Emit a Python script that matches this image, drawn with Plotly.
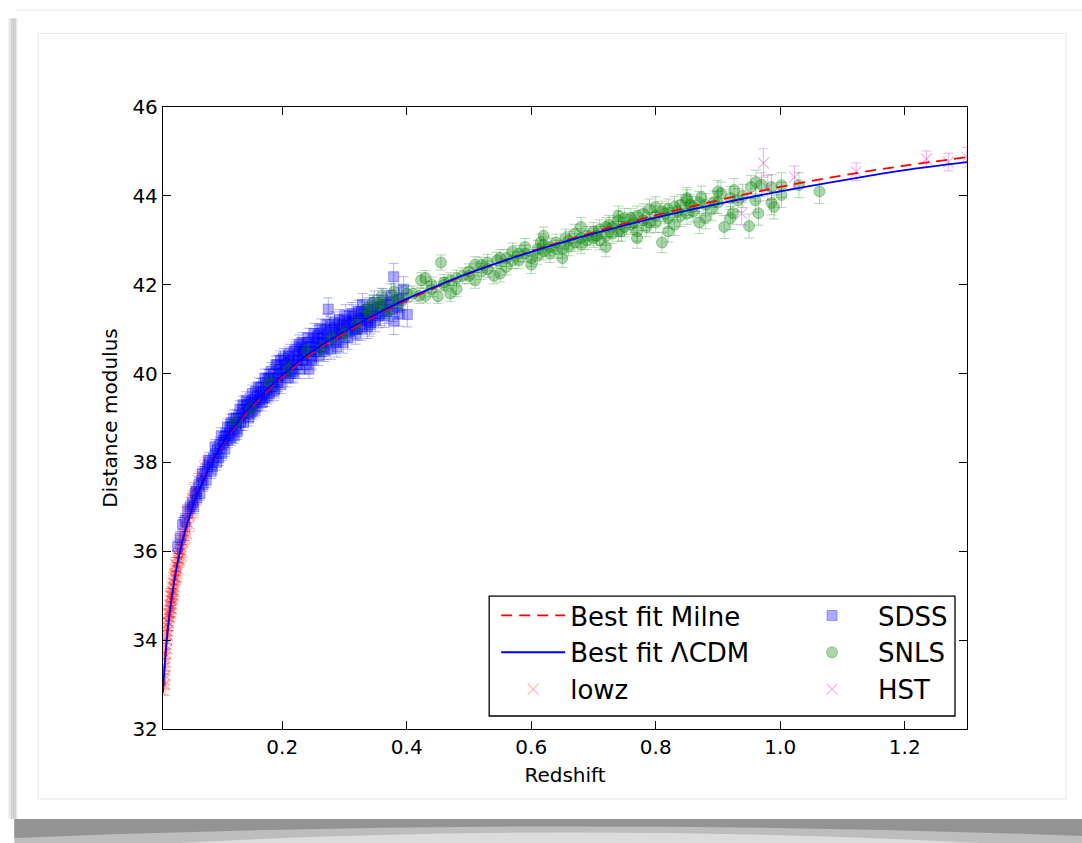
import plotly.graph_objects as go

# ---------------- data ----------------
model_z = [0.0085, 0.01, 0.015, 0.02, 0.03, 0.04, 0.05, 0.06, 0.08, 0.1, 0.12, 0.15, 0.2, 0.25, 0.3,
           0.35, 0.4, 0.45, 0.5, 0.6, 0.7, 0.8, 0.9, 1.0, 1.1, 1.2, 1.3]
lcdm_mu = [32.82, 33.18, 34.07, 34.70, 35.60, 36.25, 36.74, 37.15, 37.80, 38.33, 38.75, 39.27, 39.96,
           40.52, 40.95, 41.33, 41.68, 41.98, 42.26, 42.74, 43.15, 43.51, 43.82, 44.10, 44.35, 44.58, 44.76]
milne_mu = [32.83, 33.19, 34.08, 34.71, 35.61, 36.25, 36.74, 37.14, 37.79, 38.31, 38.72, 39.23, 39.92,
            40.48, 40.91, 41.30, 41.65, 41.96, 42.25, 42.75, 43.18, 43.56, 43.90, 44.20, 44.46, 44.68, 44.87]

lowz_z = [0.010, 0.011, 0.012, 0.012, 0.012, 0.013, 0.014, 0.015, 0.015, 0.016, 0.017, 0.018, 0.019,
          0.020, 0.021, 0.022, 0.023, 0.024, 0.025, 0.026, 0.027, 0.028, 0.029, 0.030, 0.031, 0.033,
          0.034, 0.035, 0.037, 0.038, 0.040, 0.042, 0.045, 0.047, 0.050, 0.053, 0.056, 0.058, 0.062,
          0.065, 0.070, 0.075, 0.080,
          0.0095, 0.011, 0.013, 0.014, 0.016, 0.017, 0.018, 0.019, 0.020, 0.021, 0.022, 0.023, 0.024,
          0.025, 0.026, 0.027, 0.028, 0.030, 0.032, 0.033, 0.035, 0.036, 0.039, 0.041, 0.043, 0.044,
          0.046, 0.048, 0.051, 0.054, 0.057, 0.060]
lowz_mu = [33.1, 33.4, 33.7, 33.2, 33.0, 33.9, 34.0, 34.2, 33.8, 34.4, 34.3, 34.6, 34.8, 34.7, 34.9,
           35.0, 34.8, 35.2, 35.3, 35.1, 35.5, 35.4, 35.6, 35.7, 35.5, 35.8, 35.9, 36.0, 36.1, 35.9,
           36.3, 36.4, 36.5, 36.7, 36.8, 36.9, 37.2, 37.4, 37.3, 37.6, 37.7, 37.9, 38.0,
           33.0, 33.6, 33.5, 34.3, 34.1, 34.6, 34.4, 34.5, 35.0, 34.6, 34.7, 35.1, 34.9, 35.0, 35.4,
           35.2, 35.7, 35.4, 35.9, 35.6, 35.8, 36.2, 36.0, 36.2, 36.6, 36.3, 36.4, 36.9, 36.6, 37.1,
           36.9, 37.2]
lowz_err = [0.20, 0.18, 0.22, 0.20, 0.25, 0.18, 0.20, 0.17, 0.22, 0.18, 0.20, 0.16, 0.18, 0.17, 0.19,
            0.16, 0.18, 0.17, 0.15, 0.18, 0.16, 0.17, 0.15, 0.16, 0.18, 0.15, 0.16, 0.15, 0.17, 0.16,
            0.15, 0.16, 0.15, 0.14, 0.15, 0.14, 0.16, 0.15, 0.14, 0.15, 0.14, 0.15, 0.14,
            0.22, 0.20, 0.19, 0.18, 0.19, 0.17, 0.18, 0.17, 0.16, 0.18, 0.17, 0.16, 0.17, 0.16, 0.15,
            0.17, 0.16, 0.15, 0.16, 0.15, 0.16, 0.15, 0.14, 0.15, 0.16, 0.14, 0.15, 0.14, 0.15, 0.14,
            0.15, 0.14]

sdss_z = [0.032, 0.036, 0.040, 0.044, 0.048, 0.052, 0.056, 0.060, 0.063, 0.066, 0.070, 0.073, 0.076,
          0.080, 0.083, 0.086, 0.090, 0.093, 0.096, 0.100, 0.103, 0.106, 0.110, 0.113, 0.116, 0.120,
          0.123, 0.126, 0.130, 0.133, 0.136, 0.140, 0.143, 0.146, 0.150, 0.153, 0.156, 0.160, 0.163,
          0.166, 0.170, 0.173, 0.176, 0.180, 0.183, 0.186, 0.190, 0.193, 0.196, 0.200, 0.203, 0.206,
          0.210, 0.213, 0.216, 0.220, 0.223, 0.226, 0.230, 0.233, 0.236, 0.240, 0.243, 0.246, 0.250,
          0.253, 0.256, 0.260, 0.263, 0.266, 0.270, 0.274, 0.278, 0.282, 0.286, 0.290, 0.295, 0.300,
          0.305, 0.310, 0.315, 0.320, 0.325, 0.329, 0.335, 0.340, 0.345, 0.350, 0.358, 0.365, 0.372,
          0.379, 0.379, 0.385, 0.392, 0.401,
          0.058, 0.062, 0.068, 0.072, 0.078, 0.082, 0.088, 0.092, 0.098, 0.102, 0.108, 0.112, 0.118,
          0.122, 0.128, 0.132, 0.138, 0.142, 0.148, 0.152, 0.158, 0.162, 0.168, 0.172, 0.178, 0.182,
          0.188, 0.192, 0.198, 0.202, 0.208, 0.212, 0.218, 0.222, 0.228, 0.232, 0.238, 0.242, 0.248,
          0.252, 0.258, 0.262, 0.268, 0.272, 0.278, 0.284, 0.288, 0.292, 0.298, 0.302, 0.308, 0.312,
          0.318, 0.322, 0.328, 0.332, 0.338, 0.342, 0.348, 0.355, 0.362, 0.368, 0.375, 0.388, 0.395,
          0.105, 0.115, 0.125, 0.135, 0.145, 0.155, 0.165, 0.175, 0.185, 0.195, 0.205, 0.215, 0.225,
          0.235, 0.245, 0.255, 0.265, 0.275, 0.285, 0.295, 0.305, 0.315, 0.325, 0.335, 0.345,
          0.095, 0.108, 0.118, 0.127, 0.137, 0.147, 0.157, 0.167, 0.177, 0.187, 0.197, 0.207, 0.217,
          0.227, 0.237, 0.247, 0.257, 0.267, 0.277, 0.287, 0.297, 0.307, 0.317, 0.327, 0.337, 0.347,
          0.357, 0.367, 0.377, 0.387, 0.152, 0.172, 0.192, 0.212, 0.232, 0.252, 0.272, 0.292, 0.312,
          0.332]
sdss_mu = [36.1, 36.3, 36.6, 36.7, 36.9, 37.0, 37.1, 37.3, 37.2, 37.5, 37.6, 37.5, 37.8, 37.9, 38.0,
           37.8, 38.1, 38.2, 38.3, 38.4, 38.2, 38.5, 38.6, 38.5, 38.8, 38.8, 38.6, 39.0, 39.0, 38.9,
           39.2, 39.1, 39.3, 39.0, 39.3, 39.4, 39.2, 39.5, 39.4, 39.7, 39.6, 39.8, 39.5, 39.9, 39.7,
           40.0, 40.2, 39.8, 40.1, 40.0, 40.3, 40.1, 40.4, 40.0, 40.3, 40.5, 40.2, 40.4, 40.6, 40.3,
           40.5, 40.7, 40.1, 40.6, 40.8, 40.5, 40.7, 40.9, 40.6, 40.8, 41.0, 41.45, 40.8, 41.0, 40.7,
           41.1, 40.9, 41.2, 40.8, 41.1, 41.3, 41.0, 41.2, 41.55, 41.3, 41.1, 41.4, 41.2, 41.5, 41.3,
           41.6, 42.18, 41.18, 41.5, 41.7, 41.33,
           37.0, 37.35, 37.3, 37.75, 37.6, 38.05, 37.9, 38.35, 38.1, 38.6, 38.3, 38.8, 38.55, 39.0,
           38.7, 39.2, 38.9, 39.4, 39.1, 39.55, 39.25, 39.7, 39.35, 39.9, 39.55, 40.05, 39.65, 40.2,
           39.75, 40.35, 39.9, 40.45, 40.0, 40.55, 40.1, 40.7, 40.2, 40.8, 40.3, 40.9, 40.4, 41.0,
           40.5, 41.1, 40.55, 41.15, 40.6, 41.2, 40.7, 41.3, 40.95, 41.35, 40.9, 41.4, 41.0, 41.25,
           41.45, 41.15, 41.6, 41.3, 41.65, 41.4, 41.75, 41.35, 41.9,
           38.45, 38.65, 38.85, 39.05, 39.2, 39.35, 39.5, 39.65, 39.8, 39.95, 40.05, 40.2, 40.3,
           40.4, 40.5, 40.6, 40.7, 40.75, 40.85, 40.95, 41.05, 41.15, 41.25, 41.2, 41.3,
           38.0, 38.6, 38.9, 38.75, 39.3, 39.35, 39.6, 39.45, 39.9, 39.6, 40.3, 40.2, 40.05, 40.65,
           40.55, 40.35, 40.85, 40.55, 41.05, 40.9, 41.1, 41.15, 41.0, 41.4, 41.05, 41.5, 41.35, 41.55,
           41.45, 41.65, 39.15, 39.45, 39.9, 40.25, 40.45, 40.65, 40.85, 41.0, 41.2, 41.35]
sdss_err = [0.15, 0.15, 0.16, 0.15, 0.16, 0.15, 0.16, 0.15, 0.16, 0.15, 0.16, 0.15, 0.16, 0.15, 0.16,
            0.16, 0.16, 0.17, 0.16, 0.17, 0.16, 0.17, 0.16, 0.17, 0.16, 0.17, 0.17, 0.18, 0.17, 0.18,
            0.17, 0.18, 0.17, 0.18, 0.17, 0.18, 0.18, 0.19, 0.18, 0.19, 0.18, 0.19, 0.18, 0.19, 0.19,
            0.20, 0.19, 0.20, 0.19, 0.20, 0.19, 0.20, 0.20, 0.21, 0.20, 0.21, 0.20, 0.21, 0.20, 0.21,
            0.21, 0.22, 0.21, 0.22, 0.21, 0.22, 0.21, 0.22, 0.22, 0.23, 0.22, 0.25, 0.23, 0.22, 0.24,
            0.23, 0.24, 0.23, 0.25, 0.24, 0.25, 0.24, 0.25, 0.25, 0.25, 0.26, 0.25, 0.26, 0.27, 0.26,
            0.27, 0.30, 0.30, 0.28, 0.28, 0.28,
            0.15, 0.16, 0.15, 0.16, 0.16, 0.17, 0.16, 0.17, 0.17, 0.18, 0.17, 0.18, 0.17, 0.18, 0.18,
            0.19, 0.18, 0.19, 0.18, 0.19, 0.19, 0.20, 0.19, 0.20, 0.19, 0.20, 0.20, 0.21, 0.20, 0.21,
            0.20, 0.21, 0.21, 0.22, 0.21, 0.22, 0.21, 0.22, 0.22, 0.23, 0.22, 0.23, 0.23, 0.24, 0.23,
            0.24, 0.23, 0.24, 0.24, 0.25, 0.24, 0.25, 0.24, 0.25, 0.25, 0.26, 0.25, 0.26, 0.26, 0.27,
            0.26, 0.27, 0.27, 0.28, 0.28,
            0.16, 0.17, 0.17, 0.18, 0.18, 0.18, 0.19, 0.19, 0.19, 0.20, 0.20, 0.20, 0.21, 0.21, 0.21,
            0.22, 0.22, 0.22, 0.23, 0.23, 0.23, 0.24, 0.24, 0.25, 0.25,
            0.17, 0.17, 0.18, 0.18, 0.19, 0.19, 0.19, 0.20, 0.20, 0.21, 0.21, 0.21, 0.22, 0.22, 0.22,
            0.23, 0.23, 0.23, 0.24, 0.24, 0.24, 0.25, 0.25, 0.26, 0.26, 0.26, 0.27, 0.27, 0.28, 0.28,
            0.18, 0.19, 0.20, 0.21, 0.22, 0.22, 0.23, 0.24, 0.25, 0.26]

snls_z = [0.125, 0.150, 0.180, 0.210, 0.240, 0.262, 0.280, 0.300, 0.320, 0.335, 0.346, 0.355, 0.360,
          0.370, 0.380, 0.390, 0.410, 0.423, 0.430, 0.440, 0.450, 0.455, 0.460, 0.470, 0.480, 0.490,
          0.500, 0.510, 0.520, 0.530, 0.540, 0.550, 0.560, 0.570, 0.580, 0.590, 0.600, 0.610, 0.620,
          0.630, 0.640, 0.650, 0.660, 0.670, 0.680, 0.690, 0.700, 0.710, 0.720, 0.730, 0.740, 0.750,
          0.760, 0.770, 0.780, 0.790, 0.800, 0.810, 0.820, 0.830, 0.840, 0.850, 0.860, 0.873, 0.880,
          0.894, 0.905, 0.910, 0.924, 0.926, 0.932, 0.950, 0.953, 0.961, 0.965, 0.986, 0.986, 1.002,
          1.002, 1.030, 1.063, 0.545, 0.615, 0.655, 0.705, 0.725, 0.745, 0.765, 0.785, 0.815, 0.835,
          0.855,
          0.520, 0.580, 0.620, 0.640, 0.660, 0.680, 0.700, 0.720, 0.740, 0.760, 0.780, 0.800, 0.820,
          0.840, 0.860, 0.880, 0.900, 0.920, 0.940, 0.960, 0.340, 0.360, 0.380, 0.400, 0.420, 0.440,
          0.460, 0.480, 0.500, 0.530, 0.560, 0.590, 0.610, 0.630, 0.670, 0.690, 0.710, 0.730, 0.750,
          0.770, 0.790, 0.810, 0.830, 0.850, 0.870, 0.890,
          0.430, 0.470, 0.510, 0.550, 0.570, 0.600, 0.620, 0.650, 0.680, 0.720, 0.740, 0.770, 0.800,
          0.820, 0.850, 0.870, 0.900, 0.920, 0.970, 0.990]
snls_mu = [38.9, 39.2, 39.8, 40.1, 40.5, 40.55, 40.8, 40.9, 41.1, 41.45, 41.6, 41.5, 41.75, 41.4,
           41.85, 41.6, 41.8, 42.1, 41.75, 41.9, 41.74, 42.5, 42.0, 42.1, 41.9, 42.2, 42.3, 42.1, 42.45,
           42.5, 42.2, 42.6, 42.4, 42.55, 42.7, 42.85, 42.6, 42.8, 42.9, 42.7, 42.95, 42.8, 43.0, 43.15,
           42.9, 43.1, 43.2, 43.0, 43.3, 43.15, 43.45, 43.3, 43.5, 43.2, 43.6, 43.4, 43.55, 42.95, 43.7,
           43.35, 43.8, 43.6, 43.75, 43.97, 43.5, 43.86, 44.06, 43.3, 43.61, 44.13, 43.9, 43.32, 44.2,
           44.31, 43.61, 44.2, 43.84, 44.24, 44.02, 44.24, 44.1, 42.55, 42.95, 43.05, 43.1, 43.35, 43.2,
           43.4, 43.3, 43.6, 43.65, 43.8,
           42.3, 42.55, 42.75, 42.8, 42.85, 43.05, 43.05, 43.1, 43.2, 43.35, 43.45, 43.4, 43.5, 43.55,
           43.65, 43.8, 43.85, 43.95, 44.0, 43.9, 41.35, 41.55, 41.65, 41.8, 41.75, 42.0, 42.05, 42.15,
           42.2, 42.35, 42.6, 42.7, 42.65, 42.85, 42.95, 43.0, 43.25, 43.3, 43.5, 43.55, 43.7, 43.65,
           43.75, 43.9, 43.85, 43.7,
           42.15, 41.8, 42.45, 42.25, 42.75, 42.45, 43.1, 42.6, 43.3, 42.85, 43.55, 43.05, 43.75, 43.2,
           43.95, 43.4, 44.1, 43.5, 44.25, 43.75]
snls_err = [0.18, 0.18, 0.17, 0.17, 0.16, 0.17, 0.16, 0.16, 0.17, 0.16, 0.17, 0.16, 0.17, 0.16, 0.17,
            0.16, 0.17, 0.17, 0.16, 0.17, 0.16, 0.17, 0.16, 0.17, 0.17, 0.18, 0.17, 0.18, 0.17, 0.18,
            0.18, 0.19, 0.18, 0.19, 0.18, 0.19, 0.19, 0.20, 0.19, 0.20, 0.19, 0.20, 0.20, 0.21, 0.20,
            0.21, 0.20, 0.21, 0.21, 0.22, 0.21, 0.22, 0.21, 0.22, 0.22, 0.23, 0.22, 0.23, 0.23, 0.24,
            0.23, 0.24, 0.24, 0.25, 0.24, 0.25, 0.25, 0.26, 0.25, 0.26, 0.26, 0.27, 0.26, 0.27, 0.27,
            0.28, 0.27, 0.28, 0.28, 0.28, 0.27, 0.18, 0.19, 0.20, 0.21, 0.21, 0.22, 0.22, 0.22, 0.23,
            0.24, 0.24,
            0.18, 0.19, 0.19, 0.20, 0.20, 0.21, 0.21, 0.21, 0.22, 0.22, 0.23, 0.23, 0.23, 0.24, 0.24,
            0.25, 0.25, 0.26, 0.26, 0.27, 0.16, 0.16, 0.17, 0.17, 0.17, 0.17, 0.18, 0.18, 0.18, 0.18,
            0.19, 0.19, 0.19, 0.20, 0.20, 0.21, 0.21, 0.22, 0.22, 0.22, 0.23, 0.23, 0.24, 0.24, 0.25,
            0.25,
            0.17, 0.18, 0.18, 0.19, 0.19, 0.20, 0.20, 0.21, 0.21, 0.22, 0.22, 0.23, 0.23, 0.24, 0.24,
            0.25, 0.25, 0.26, 0.27, 0.27]

hst_z = [0.938, 0.973, 0.980, 1.023, 1.122, 1.235, 1.270, 1.300]
hst_mu = [43.60, 44.74, 44.18, 44.42, 44.54, 44.83, 44.76, 44.87]
hst_err = [0.25, 0.32, 0.28, 0.25, 0.20, 0.18, 0.20, 0.22]

x_range = [0.0085, 1.3]
y_range = [32, 46]
x_ticks = [0.2, 0.4, 0.6, 0.8, 1.0, 1.2]
y_ticks = [32, 34, 36, 38, 40, 42, 44, 46]

# ---------------- layout geometry ----------------
W, H = 1082, 843
L, R, T, B = 162.7, 967.0, 106.7, 729.0


def px(x):
    return (x - L) / (R - L)


def py(y):
    return (B - y) / (B - T)


FONT = "DejaVu Sans"
fig = go.Figure()


def errtrace(name, z, mu, err, rgb, symbol, size, legend, rank, alpha=0.3):
    fill = f"rgba({rgb},{alpha})"
    if symbol == "x":
        marker = dict(symbol="x-thin", size=size, color=fill, line=dict(width=1.2, color=fill))
    else:
        marker = dict(symbol=symbol, size=size, color=fill, line=dict(width=1, color=fill))
    return go.Scatter(x=z, y=mu, mode="markers", name=name, marker=marker,
                      error_y=dict(type="data", array=err, visible=True, color=f"rgba({rgb},0.3)",
                                   thickness=1, width=5),
                      legend=legend, legendrank=rank)


fig.add_trace(errtrace("lowz", lowz_z, lowz_mu, lowz_err, "255,0,0", "x", 11, "legend", 3))
fig.add_trace(errtrace("SDSS", sdss_z, sdss_mu, sdss_err, "0,0,255", "square", 10, "legend2", 1, 0.33))
fig.add_trace(errtrace("SNLS", snls_z, snls_mu, snls_err, "0,128,0", "circle", 11, "legend2", 2, 0.33))
fig.add_trace(errtrace("HST", hst_z, hst_mu, hst_err, "191,0,191", "x", 11, "legend2", 3))

fig.add_trace(go.Scatter(x=model_z, y=milne_mu, mode="lines", name="Best fit Milne",
                         line=dict(color="#ff0000", width=1.8, dash="11px,7px", shape="spline"),
                         legend="legend", legendrank=1))
fig.add_trace(go.Scatter(x=model_z, y=lcdm_mu, mode="lines", name="Best fit \u039bCDM",
                         line=dict(color="#0000ff", width=1.8, shape="spline"),
                         legend="legend", legendrank=2))

axis_common = dict(showline=True, linecolor="black", linewidth=1.3, mirror="allticks",
                   ticks="inside", ticklen=8, tickwidth=1, tickcolor="black",
                   showgrid=False, zeroline=False,
                   tickfont=dict(family=FONT, size=20, color="black"))

fig.update_xaxes(range=x_range, tickvals=x_ticks, ticktext=[f"{v:.1f}" for v in x_ticks],
                 title=dict(text="Redshift", font=dict(family=FONT, size=20, color="black"),
                            standoff=9),
                 **axis_common)
fig.update_yaxes(range=y_range, tickvals=y_ticks, ticktext=[str(v) for v in y_ticks],
                 title=dict(text="Distance modulus", font=dict(family=FONT, size=20, color="black"),
                            standoff=9),
                 **axis_common)

shapes = []
# decorative photo-card frame
shapes.append(dict(type="rect", xref="paper", yref="paper", layer="below",
                   x0=px(14), x1=px(1082), y0=py(843), y1=py(819),
                   fillcolor="#bdbdbd", line=dict(width=0)))
shapes.append(dict(type="path", xref="paper", yref="paper", layer="below",
                   path=f"M {px(14)} {py(819)} L {px(1082)} {py(819)} L {px(1082)} {py(836)} "
                        f"Q {px(560)} {py(816)} {px(14)} {py(838)} Z",
                   fillcolor="#939393", line=dict(width=0)))
shapes.append(dict(type="path", xref="paper", yref="paper", layer="below",
                   path=f"M {px(180)} {py(843)} Q {px(560)} {py(822)} {px(980)} {py(843)} Z",
                   fillcolor="#dcdcdc", line=dict(width=0)))
for x0, x1, c in [(8, 10, "#eaeaea"), (10, 12, "#d6d6d6"), (12, 14, "#c8c8c8"),
                  (14, 16, "#d0d0d0"), (16, 17, "#e6e6e6")]:
    shapes.append(dict(type="rect", xref="paper", yref="paper", layer="below",
                       x0=px(x0), x1=px(x1), y0=py(819), y1=py(18),
                       fillcolor=c, line=dict(width=0)))
shapes.append(dict(type="line", xref="paper", yref="paper", layer="below",
                   x0=px(16), x1=px(1082), y0=py(10), y1=py(10),
                   line=dict(color="#f2f2f2", width=2)))
shapes.append(dict(type="rect", xref="paper", yref="paper", layer="below",
                   x0=px(38), x1=px(1066), y0=py(799), y1=py(33),
                   line=dict(color="#ececec", width=1.2)))
# legend box
shapes.append(dict(type="rect", xref="paper", yref="paper", layer="above",
                   x0=px(489), x1=px(955), y0=py(716), y1=py(596),
                   line=dict(color="black", width=1.3)))

leg_font = dict(family=FONT, size=26, color="black")
fig.update_layout(
    width=W, height=H,
    margin=dict(l=L, r=W - R, t=T, b=H - B, pad=0),
    paper_bgcolor="white", plot_bgcolor="white",
    shapes=shapes,
    showlegend=True,
    legend=dict(x=px(496), y=py(592), xanchor="left", yanchor="top", font=leg_font,
                bgcolor="rgba(255,255,255,0)", borderwidth=0, itemwidth=64,
                traceorder="normal", tracegroupgap=0),
    legend2=dict(x=px(786), y=py(592), xanchor="left", yanchor="top", font=leg_font,
                 bgcolor="rgba(255,255,255,0)", borderwidth=0, itemwidth=82,
                 traceorder="normal", tracegroupgap=0),
)

fig.write_html("out.html")
